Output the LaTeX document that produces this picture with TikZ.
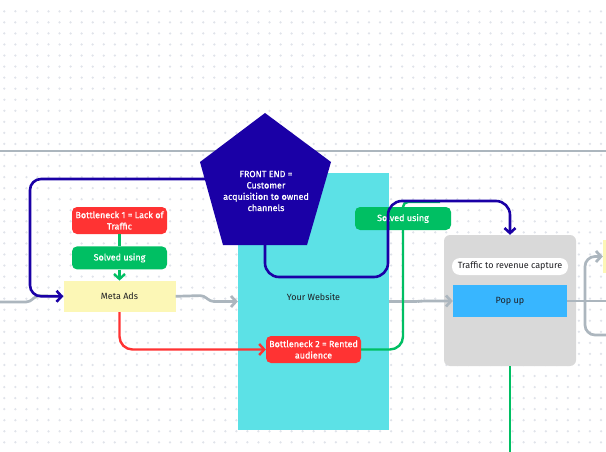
\documentclass[tikz,border=0pt]{standalone}
\usepackage{fontspec}
\setmainfont{Fira Sans}
\newfontfamily\cardfont[FakeBold=0.7]{Fira Sans}
\definecolor{navy}{RGB}{26,0,166}
\definecolor{website}{RGB}{92,225,230}
\definecolor{bneck}{RGB}{255,51,51}
\definecolor{solve}{RGB}{0,191,99}
\definecolor{adsy}{RGB}{252,247,182}
\definecolor{group}{RGB}{217,217,217}
\definecolor{popb}{RGB}{56,182,255}
\definecolor{wire}{RGB}{172,182,190}
\definecolor{dotc}{RGB}{224,227,234}
\definecolor{ink}{RGB}{30,30,34}
\usetikzlibrary{arrows.meta,positioning}

\tikzset{
  lbl/.style={font=\fontsize{9}{11.3}\selectfont, align=center, inner sep=0pt},
  card/.style={lbl, font=\cardfont\fontsize{9}{11.3}\selectfont, rectangle, rounded corners=5pt, text=white},
  bneckbox/.style={card, fill=bneck, minimum width=95pt, minimum height=27pt},
  solvebox/.style={card, fill=solve, minimum width=95pt, minimum height=23pt},
  flat/.style={lbl, rectangle, text=ink},
  wireline/.style={draw=wire, line width=2.7pt, rounded corners=4pt},
  navyline/.style={draw=navy, line width=2.6pt, rounded corners=14pt},
  solveline/.style={draw=solve, line width=2.4pt, rounded corners=13pt},
  bneckline/.style={draw=bneck, line width=2.4pt, rounded corners=13pt}
}

\begin{document}
\begin{tikzpicture}[x=1pt, y=-1pt, >={Straight Barb[length=5pt,width=11pt]}]
  \path[use as bounding box, clip] (0,0) rectangle (606,452);
  \fill[white] (0,0) rectangle (606,452);
  % dot grid
  \foreach \i in {0,...,54}
    \foreach \j in {1,...,40}
      \fill[dotc] (4.3+11.05*\i, 0.3+11.05*\j) circle (1.25pt);
  \draw[wire, line width=2.7pt] (0,151) -- (606,151);

  % website block and front end
  \node[flat, fill=website, minimum width=151pt, minimum height=257pt, text depth=10pt] (web) at (313.5,301.5) {Your Website};
  \fill[navy] (265,113) -- (331,162) -- (307,245) -- (223,245) -- (200,162) -- cycle;
  \node[card] (front) at (266,191) {FRONT END =\\Customer\\acquisition to owned\\channels};

  % left column
  \node[bneckbox] (b1) at (119.5,220.5) {Bottleneck 1 = Lack of\\Traffic};
  \node[solvebox, below=12pt of b1] (s1) {Solved using};
  \node[flat, fill=adsy, minimum width=112pt, minimum height=31pt, below=11pt of s1] (meta) {Meta Ads};

  \node[bneckbox] (b2) at (313.5,349.5) {Bottleneck 2 = Rented\\audience};
  \node[solvebox, minimum width=96pt] (s2) at (403,218.5) {Solved using};

  % revenue capture group
  \node[rectangle, fill=group, rounded corners=6pt, minimum width=132pt, minimum height=131pt] (capture) at (510,300.5) {};
  \node[flat, fill=white, rounded corners=8pt, minimum width=116pt, minimum height=17pt] (tag) at (510,266.5) {Traffic to revenue capture};
  \node[flat, fill=popb, minimum width=114pt, minimum height=32pt] (pop) at (510,301) {Pop up};
  \node[flat, fill=adsy, minimum width=54pt, minimum height=33pt] (next) at (630,256.5) {};

  \coordinate (fe-l) at (212,179);
  \coordinate (fe-b) at (265,240);
  \coordinate (in-l) at (-5,302);
  \coordinate (fork) at (585,301);
  \coordinate (out-r) at (612,301);
  \coordinate (out-d) at (612,335);
  \coordinate (g-end) at (440,202);
  \coordinate (exit-d) at (510,460);

  % grey flow
  \draw[wireline] (in-l) -- (30,302) -- (36,295.5) -- (meta.west);
  \draw[wireline,->] (meta.east) -- (204,295.5) -- (210,301.5) -- (web.west);
  \draw[wireline,->] (web.east) -- (418,301.5) -- (422,301) -- (pop.west);
  \draw[wireline] (pop.east) -- (out-r);
  \draw[wireline,->,rounded corners=10pt] (fork) |- (next.west);
  \draw[wireline,rounded corners=10pt] (fork) |- (out-d);

  % green and red
  \draw[solveline] (b1) -- (s1);
  \draw[solveline,->] (s1) -- (meta);
  \draw[bneckline,->] (meta.south) |- (b2.west);
  \draw[solveline] (b2.east) -| (s2.south);
  \draw[solveline,rounded corners=5pt] (s2.north) |- (g-end);
  \draw[solveline] (capture.south) -- (exit-d);

  % navy
  \draw[navyline,->,rounded corners=11pt] (fe-l) -- (30,179) |- (meta.west);
  \draw[navyline,->] (fe-b) |- (388,277) -- (388,201) -| (capture.north);
\end{tikzpicture}
\end{document}
